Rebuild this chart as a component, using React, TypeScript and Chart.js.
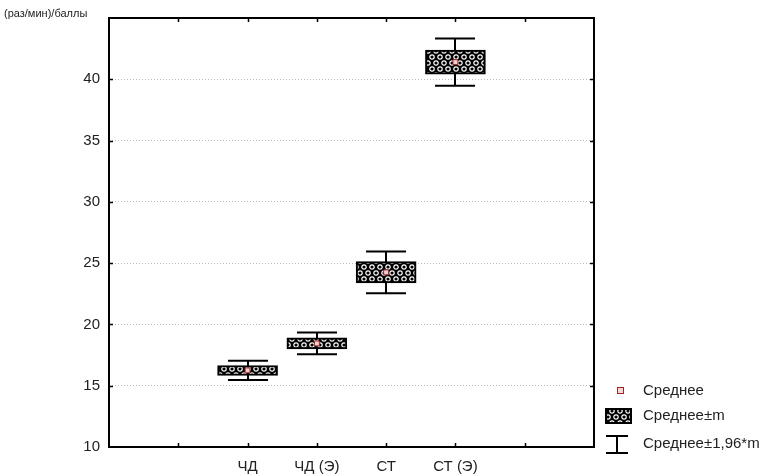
import React, { useEffect, useRef } from "react";
import { Chart, registerables } from "chart.js";

Chart.register(...registerables);

// ---- data ----
const categories = ["", "", "ЧД", "ЧД (Э)", "СТ", "СТ (Э)", "", ""];
const groupLabels = ["ЧД", "ЧД (Э)", "СТ", "СТ (Э)"];
const means = [16.25, 18.45, 24.25, 41.4];
const stdErrors = [0.4, 0.45, 0.87, 0.98];
const ciFactor = 1.96;
const yMin = 10;
const yMax = 45;
const yStep = 5;
const hiddenTickValues = [45];
const legendLabels = ["Среднее", "Среднее±m", "Среднее±1,96*m"];
const yAxisTitle = "(раз/мин)/баллы";

const FONT = "Arial, 'Liberation Sans', sans-serif";

function makePattern(): CanvasPattern | string {
  const c = document.createElement("canvas");
  c.width = 8;
  c.height = 12;
  const g = c.getContext("2d");
  if (!g) return "#000";
  g.fillStyle = "#000";
  g.fillRect(0, 0, 8, 12);
  const rings = [
    [4, 3],
    [0, 9],
    [8, 9],
    [4, -3],
    [4, 15],
  ];
  g.strokeStyle = "#fff";
  g.lineWidth = 1.2;
  for (const [x, y] of rings) {
    g.beginPath();
    g.arc(x, y, 2.2, 0, Math.PI * 2);
    g.stroke();
  }
  const p = g.createPattern(c, "repeat");
  return p || "#000";
}

export default function App() {
  const ref = useRef<HTMLCanvasElement>(null);

  useEffect(() => {
    document.body.style.margin = "0";
    const canvas = ref.current;
    if (!canvas) return;
    const pattern = makePattern();

    const idxOf = (label: string) => categories.indexOf(label);
    const boxData: any[] = categories.map(() => null);
    const meanData: any[] = categories.map(() => null);
    groupLabels.forEach((g, i) => {
      const k = idxOf(g);
      boxData[k] = [means[i] - stdErrors[i], means[i] + stdErrors[i]];
      meanData[k] = means[i];
    });

    const whiskerPlugin = {
      id: "whiskers",
      beforeDatasetsDraw(chart: any) {
        const { ctx, scales } = chart;
        const x = scales.x;
        const y = scales.y;
        ctx.save();
        ctx.strokeStyle = "#000";
        ctx.lineWidth = 2;
        groupLabels.forEach((g, i) => {
          const cx = Math.round(x.getPixelForValue(idxOf(g)));
          const lo = y.getPixelForValue(means[i] - ciFactor * stdErrors[i]);
          const hi = y.getPixelForValue(means[i] + ciFactor * stdErrors[i]);
          const half = 20;
          ctx.beginPath();
          ctx.moveTo(cx, hi);
          ctx.lineTo(cx, lo);
          ctx.moveTo(cx - half, hi);
          ctx.lineTo(cx + half, hi);
          ctx.moveTo(cx - half, lo);
          ctx.lineTo(cx + half, lo);
          ctx.stroke();
        });
        ctx.restore();
      },
    };

    const framePlugin = {
      id: "frame",
      afterDatasetsDraw(chart: any) {
        const { ctx, chartArea, scales } = chart;
        const { left, right, top, bottom } = chartArea;
        ctx.save();
        ctx.strokeStyle = "#000";
        ctx.lineWidth = 2;
        ctx.strokeRect(left, top, right - left, bottom - top);
        ctx.lineWidth = 1.5;
        const t = 4;
        ctx.beginPath();
        for (let i = 1; i < categories.length - 1; i++) {
          const px = Math.round(scales.x.getPixelForValue(i)) + 0.5;
          ctx.moveTo(px, bottom);
          ctx.lineTo(px, bottom - t);
          ctx.moveTo(px, top);
          ctx.lineTo(px, top + t);
        }
        for (let v = yMin + yStep; v < yMax; v += yStep) {
          const py = Math.round(scales.y.getPixelForValue(v)) + 0.5;
          ctx.moveTo(left, py);
          ctx.lineTo(left + t, py);
          ctx.moveTo(right, py);
          ctx.lineTo(right - t, py);
        }
        ctx.stroke();
        ctx.restore();
      },
      afterDraw(chart: any) {
        const { ctx } = chart;
        ctx.save();
        // y axis title
        ctx.fillStyle = "#222";
        ctx.font = `11px ${FONT}`;
        ctx.textBaseline = "middle";
        ctx.textAlign = "left";
        ctx.fillText(yAxisTitle, 4, 14);

        // legend
        const tx = 643;
        const rows = [391, 416, 444];
        // mean marker
        ctx.fillStyle = "#f6dada";
        ctx.fillRect(617, 387, 6, 6);
        ctx.strokeStyle = "#9b2525";
        ctx.lineWidth = 1;
        ctx.strokeRect(617.5, 387.5, 6, 6);
        // box swatch
        ctx.fillStyle = pattern as any;
        ctx.fillRect(606, 409, 25, 14);
        ctx.strokeStyle = "#000";
        ctx.lineWidth = 2;
        ctx.strokeRect(606, 409, 25, 14);
        // whisker swatch
        ctx.lineWidth = 2;
        ctx.beginPath();
        ctx.moveTo(606, 436);
        ctx.lineTo(628, 436);
        ctx.moveTo(617, 436);
        ctx.lineTo(617, 453);
        ctx.moveTo(606, 453);
        ctx.lineTo(628, 453);
        ctx.stroke();
        // texts
        ctx.fillStyle = "#222";
        ctx.font = `15px ${FONT}`;
        ctx.textBaseline = "middle";
        legendLabels.forEach((l, i) => ctx.fillText(l, tx, rows[i]));
        ctx.restore();
      },
    };

    const chart = new Chart(canvas, {
      type: "bar",
      data: {
        labels: categories,
        datasets: [
          {
            type: "line",
            label: legendLabels[0],
            data: meanData,
            showLine: false,
            pointStyle: "rect",
            pointRadius: 3.5,
            pointBorderWidth: 1,
            pointBorderColor: "#9b2525",
            pointBackgroundColor: "#f2cfcf",
            order: 0,
          } as any,
          {
            type: "bar",
            label: legendLabels[1],
            data: boxData,
            backgroundColor: pattern as any,
            borderColor: "#000",
            borderWidth: 2,
            borderSkipped: false,
            barThickness: 60,
            grouped: false,
            order: 2,
          } as any,
        ],
      },
      options: {
        responsive: false,
        animation: false,
        layout: { padding: { top: 11, right: 185, left: 0, bottom: 0 } },
        plugins: {
          legend: { display: false },
          tooltip: { enabled: false },
          title: { display: false },
        },
        scales: {
          x: {
            type: "category",
            offset: false,
            grid: { display: false, drawTicks: false },
            border: { display: false },
            ticks: {
              autoSkip: false,
              maxRotation: 0,
              padding: 11,
              color: "#222",
              font: { family: FONT, size: 15 },
            },
            afterFit(scale: any) {
              scale.height = 29;
            },
          },
          y: {
            type: "linear",
            min: yMin,
            max: yMax,
            grid: {
              color: "#b8b8b8",
              lineWidth: 1,
              drawTicks: false,
            },
            border: { display: false, dash: [1, 2] },
            ticks: {
              stepSize: yStep,
              padding: 9,
              color: "#222",
              font: { family: FONT, size: 15 },
              callback: (v: any) => (hiddenTickValues.includes(Number(v)) ? "" : String(v)),
            },
            afterFit(scale: any) {
              scale.width = 109;
            },
          },
        },
      },
      plugins: [whiskerPlugin, framePlugin],
    });

    return () => chart.destroy();
  }, []);

  return (
    <div style={{ width: 779, height: 476, background: "#fff" }}>
      <canvas ref={ref} width={779} height={476} />
    </div>
  );
}
